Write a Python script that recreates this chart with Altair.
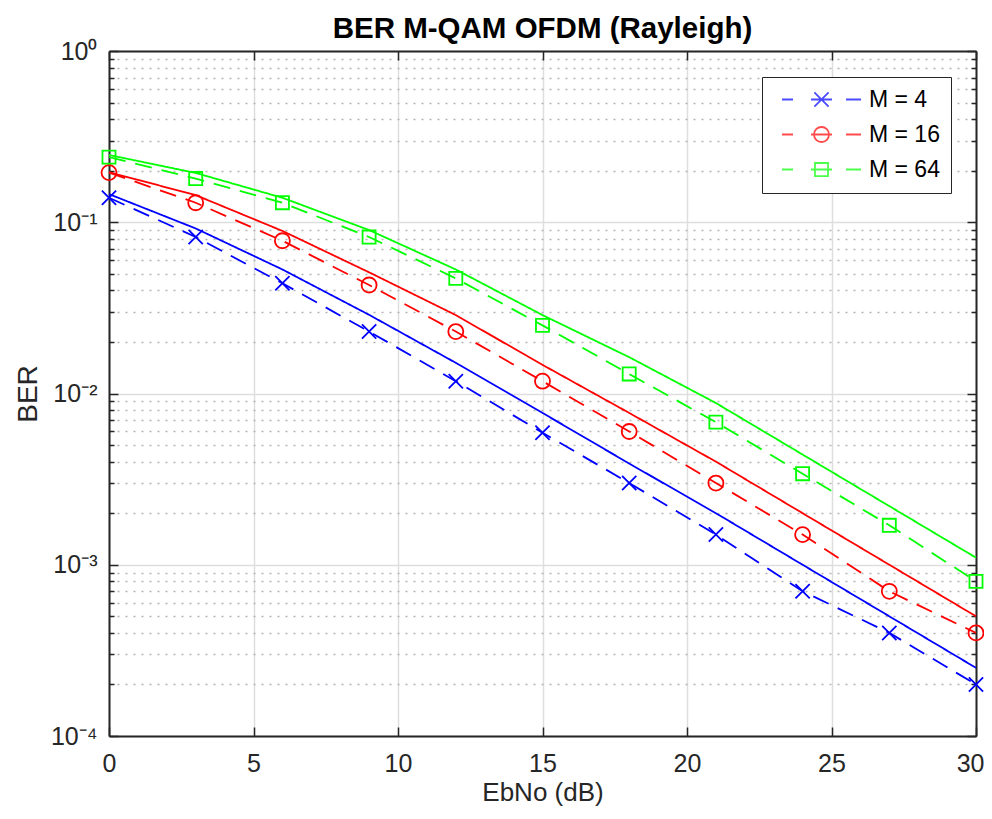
import altair as alt
import pandas as pd

# ---------------- data ----------------
ebno_db = [0, 3, 6, 9, 12, 15, 18, 21, 24, 27, 30]
series_names = ["M = 4", "M = 16", "M = 64"]
series_colors = ["#0000ff", "#ff0000", "#00ff00"]

theory_m4 = [0.146, 0.092, 0.053, 0.0288, 0.0151, 0.0077, 0.0039, 0.002, 0.001, 0.0005, 0.00025]
theory_m16 = [0.196, 0.144, 0.089, 0.051, 0.0287, 0.0147, 0.0077, 0.004, 0.002, 0.001, 0.0005]
theory_m64 = [0.247, 0.194, 0.139, 0.09, 0.053, 0.0287, 0.0163, 0.0088, 0.0044, 0.0022, 0.0011]

sim_m4 = [0.139, 0.082, 0.044, 0.023, 0.0118, 0.0059, 0.003, 0.0015, 0.0007, 0.0004, 0.0002]
sim_m16 = [0.195, 0.13, 0.078, 0.043, 0.023, 0.0118, 0.006, 0.003, 0.0015, 0.0007, 0.0004]
sim_m64 = [0.24, 0.18, 0.13, 0.082, 0.047, 0.025, 0.013, 0.0068, 0.0034, 0.0017, 0.0008]

x_ticks = [0, 5, 10, 15, 20, 25, 30]
y_major = [1, 0.1, 0.01, 0.001, 0.0001]
y_major_labels = ["10⁰", "10⁻¹", "10⁻²", "10⁻³", "10⁻⁴"]
y_minor = [round(k * 10.0 ** e, 6) for e in range(-4, 0) for k in range(2, 10)]
y_all = y_major + y_minor

# ---------------- tables ----------------
theory = {"M = 4": theory_m4, "M = 16": theory_m16, "M = 64": theory_m64}
sim = {"M = 4": sim_m4, "M = 16": sim_m16, "M = 64": sim_m64}
rows = []
for name in series_names:
    for x, v in zip(ebno_db, theory[name]):
        rows.append({"EbNo": x, "BER": v, "series": name, "kind": "theory"})
    for x, v in zip(ebno_db, sim[name]):
        rows.append({"EbNo": x, "BER": v, "series": name, "kind": "sim"})
df = pd.DataFrame(rows)
df_sim = df[df["kind"] == "sim"]

# ---------------- styling ----------------
FONT = "Liberation Sans"
W, H = 867, 685
AX = "#262626"
GRID = "#dedede"
MINOR = "#b4b4b4"

x_path = "M-0.95,-0.95L0.95,0.95M-0.95,0.95L0.95,-0.95"
o_path = "M1,0A1,1,0,1,1,-1,0A1,1,0,1,1,1,0"
s_path = "M-0.87,-0.87L0.87,-0.87L0.87,0.87L-0.87,0.87Z"
dash_glyph = "M-5.27,0L-3.8,0M-1.4,0L1.4,0M3.27,0L5.27,0"
marker_paths = [x_path, o_path, s_path]
legend_paths = [dash_glyph + p for p in marker_paths]

major_test = "indexof([" + ",".join(str(v) for v in y_major) + "], datum.value) >= 0"
label_expr = "".join(
    f"datum.value == {v} ? '{lab}' : " for v, lab in zip(y_major, y_major_labels)
) + "''"
last_x_test = f"datum.value == {x_ticks[-1]}"


def xs(axis):
    return alt.X("EbNo:Q", scale=alt.Scale(domain=[0, 30], nice=False, zero=False), axis=axis)


def ys(axis):
    return alt.Y("BER:Q", scale=alt.Scale(type="log", domain=[1e-4, 1], nice=False), axis=axis)


color_enc = alt.Color(
    "series:N",
    scale=alt.Scale(domain=series_names, range=series_colors),
    legend=None,
)

# main layer: lines + labelled axes + grids
main_x_axis = alt.Axis(
    orient="bottom", values=x_ticks, title="EbNo (dB)", grid=True, gridColor=GRID,
    gridWidth=1.5, ticks=False, tickSize=0, domainColor=AX, domainWidth=2,
    labelFontSize=25, labelColor=AX, labelFont=FONT, labelPadding=15, labelFlush=False,
    labelAlign={"condition": {"test": last_x_test, "value": "right"}, "value": "center"},
    labelOffset={"condition": {"test": last_x_test, "value": 8}, "value": 0},
    titleFontSize=26, titleFont=FONT, titleColor=AX, titleFontWeight="normal", titlePadding=3,
)
main_y_axis = alt.Axis(
    orient="left", values=y_all, labelExpr=label_expr, title="BER", grid=True,
    gridColor={"condition": {"test": major_test, "value": GRID}, "value": MINOR},
    gridDash={"condition": {"test": major_test, "value": []}, "value": [2, 6]},
    gridWidth=1.5, ticks=False, tickSize=0, domainColor=AX, domainWidth=2,
    labelFontSize=25, labelColor=AX, labelFont=FONT, labelPadding=12, labelFlush=False,
    labelOverlap=False,
    titleFontSize=28, titleFont=FONT, titleColor=AX, titleFontWeight="normal", titlePadding=8,
)

lines = alt.Chart(df).mark_line(strokeWidth=1.8).encode(
    x=xs(main_x_axis),
    y=ys(main_y_axis),
    color=color_enc,
    strokeDash=alt.StrokeDash(
        "kind:N",
        scale=alt.Scale(domain=["theory", "sim"], range=[[1, 0], [17, 10]]),
        legend=None,
    ),
    detail="series:N",
)

points = alt.Chart(df_sim).mark_point(filled=False, strokeWidth=1.8, size=225, opacity=1).encode(
    x=xs(None),
    y=ys(None),
    color=color_enc,
    shape=alt.Shape("series:N", scale=alt.Scale(domain=series_names, range=marker_paths), legend=None),
)

# inward ticks on all four sides and the box outline
tick_size_y = {"condition": {"test": major_test, "value": 9}, "value": 5}


def tick_axis_y(orient, offset):
    return alt.Axis(orient=orient, offset=offset, values=y_all, labels=False, grid=False,
                    domain=False, ticks=True, tickSize=tick_size_y, tickColor=AX,
                    tickWidth=1.5, title=None)


def tick_axis_x(orient, offset):
    return alt.Axis(orient=orient, offset=offset, values=x_ticks, labels=False, grid=False,
                    domain=False, ticks=True, tickSize=9, tickColor=AX, tickWidth=1.5,
                    title=None)


ticks_a = alt.Chart(df_sim).mark_point(opacity=0).encode(
    x=xs(tick_axis_x("top", -H)), y=ys(tick_axis_y("right", -W)))
ticks_b = alt.Chart(df_sim).mark_point(opacity=0).encode(
    x=xs(tick_axis_x("bottom", -H)), y=ys(tick_axis_y("left", -W)))
box = alt.Chart(df_sim).mark_point(opacity=0).encode(
    x=xs(alt.Axis(orient="top", values=x_ticks, labels=False, ticks=False, grid=False,
                  domain=True, domainColor=AX, domainWidth=2, title=None)),
    y=ys(alt.Axis(orient="right", values=y_all, labels=False, ticks=False, grid=False,
                  domain=True, domainColor=AX, domainWidth=2, title=None)),
)

# legend (built from scales, no data drawn)
legend_props = dict(
    title=None, orient="none", legendX=653, legendY=26,
    direction="vertical", fillColor="white", strokeColor=AX,
    padding=11, symbolSize=225, symbolStrokeWidth=1.8,
    symbolOffset=37, labelOffset=36, labelFontSize=23,
    labelFont=FONT, labelColor="black", rowPadding=11,
)
legend_layer = alt.Chart(df_sim).transform_filter(alt.datum.BER < 0).mark_point(
    filled=False, strokeWidth=1.8, size=225
).encode(
    color=alt.Color("series:N", scale=alt.Scale(domain=series_names, range=series_colors),
                    legend=alt.Legend(**legend_props)),
    shape=alt.Shape("series:N", scale=alt.Scale(domain=series_names, range=legend_paths),
                    legend=alt.Legend(**legend_props)),
)

chart = alt.layer(ticks_a, ticks_b, box, lines, points, legend_layer).resolve_scale(
    x="independent", y="independent", color="independent", shape="independent"
).properties(
    width=W, height=H,
    title=alt.TitleParams("BER M-QAM OFDM (Rayleigh)", fontSize=29.5, fontWeight="bold",
                          font=FONT, color="black", anchor="middle", offset=-5),
    autosize=alt.AutoSizeParams(type="none"),
    padding={"left": 101, "top": 43, "right": 8, "bottom": 70},
).configure_view(stroke=None).configure(background="white")

chart.save("out.html", embed_options={"renderer": "svg", "actions": False})
